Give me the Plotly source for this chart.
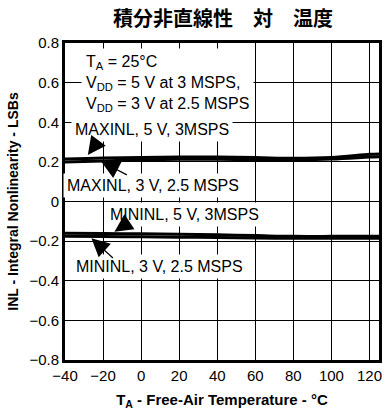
import plotly.graph_objects as go

temps = [-40, -20, 0, 20, 40, 60, 80, 100, 120, 125]
maxinl_5v = [0.215, 0.220, 0.222, 0.224, 0.224, 0.222, 0.218, 0.222, 0.238, 0.240]
maxinl_3v = [0.200, 0.205, 0.210, 0.213, 0.213, 0.212, 0.211, 0.214, 0.224, 0.226]
mininl_5v = [-0.160, -0.162, -0.163, -0.165, -0.168, -0.172, -0.176, -0.176, -0.175, -0.175]
mininl_3v = [-0.175, -0.177, -0.178, -0.180, -0.182, -0.184, -0.186, -0.186, -0.186, -0.186]

x_ticks = [-40, -20, 0, 20, 40, 60, 80, 100, 120]
y_ticks = [-0.8, -0.6, -0.4, -0.2, 0, 0.2, 0.4, 0.6, 0.8]
y_ticklabels = ["−0.8", "−0.6", "−0.4", "−0.2", "0", "0.2", "0.4", "0.6", "0.8"]
x_ticklabels = ["−40", "−20", "0", "20", "40", "60", "80", "100", "120"]

FONT = "Liberation Sans, Arial, Helvetica, sans-serif"

fig = go.Figure()
for ys in [maxinl_5v, maxinl_3v, mininl_5v, mininl_3v]:
    fig.add_trace(go.Scatter(x=temps, y=ys, mode="lines", line=dict(color="black", width=3),
                             line_shape="spline", showlegend=False, hoverinfo="skip"))

ann = []
ann.append(dict(x=-31.5, y=0.775, xref="x", yref="y", xanchor="left", yanchor="top", align="left",
                text="T<sub>A</sub> = 25°C<br>V<sub>DD</sub> = 5 V at 3 MSPS,<br>V<sub>DD</sub> = 3 V at 2.5 MSPS",
                showarrow=False, bgcolor="white", borderpad=4, font=dict(size=16, color="black", family=FONT)))
labels = [
    ("MAXINL, 5 V, 3MSPS", 5.8, 0.361),
    ("MAXINL, 3 V, 2.5 MSPS", 6.4, 0.083),
    ("MININL, 5 V, 3MSPS", 22.7, -0.068),
    ("MININL, 3 V, 2.5 MSPS", 9.7, -0.329),
]
for t, x, y in labels:
    ann.append(dict(x=x, y=y, xref="x", yref="y", text=t, showarrow=False, bgcolor="white",
                    borderpad=3, font=dict(size=16, color="black", family=FONT)))
arrows = [
    (-28.0, 0.235, 11, -15),
    (-20.9, 0.201, 27, 14),
    (-14.0, -0.153, 12, -8),
    (-26.1, -0.186, 23, 21),
]
for x, y, ax, ay in arrows:
    ann.append(dict(x=x, y=y, xref="x", yref="y", text="", showarrow=True, ax=ax, ay=ay,
                    arrowhead=2, arrowsize=3, arrowwidth=1.2, arrowcolor="black", standoff=0))

fig.update_layout(
    width=388, height=419,
    margin=dict(l=65, r=6, t=43, b=59),
    paper_bgcolor="white", plot_bgcolor="white",
    annotations=ann,
    title=dict(text="<b>積分非直線性　対　温度</b>", x=0.575, xanchor="center", y=0.955, yanchor="middle",
               font=dict(size=20, color="black", family="Noto Sans CJK JP")),
    font=dict(family=FONT, color="black", size=15),
)
fig.update_xaxes(range=[-40, 125], tickvals=x_ticks, ticktext=x_ticklabels, showgrid=True,
                 gridcolor="black", gridwidth=1, showline=True, linecolor="black", linewidth=3,
                 mirror=True, ticks="", zeroline=False, tickfont=dict(size=15),
                 title=dict(text="<b>T<sub>A</sub> - Free-Air Temperature - °C</b>", font=dict(size=15), standoff=12))
fig.update_yaxes(range=[-0.8, 0.8], tickvals=y_ticks, ticktext=y_ticklabels, showgrid=True,
                 gridcolor="black", gridwidth=1, showline=True, linecolor="black", linewidth=3,
                 mirror=True, ticks="", zeroline=False, tickfont=dict(size=15),
                 title=dict(text="<b>INL - Integral Nonlinearity - LSBs</b>", font=dict(size=14), standoff=8))

fig.write_html("out.html")
